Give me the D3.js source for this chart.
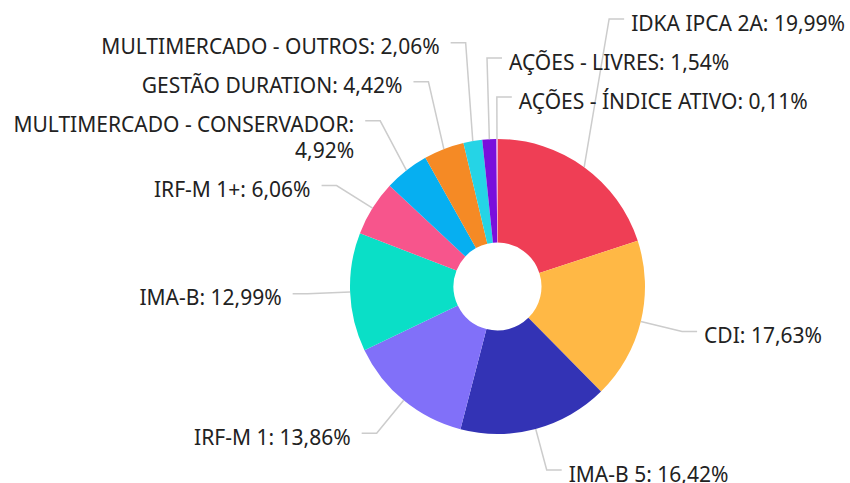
<!DOCTYPE html>
<html>
<head>
<meta charset="utf-8">
<script src="https://cdn.jsdelivr.net/npm/d3@7"></script>
<style>
  html, body { margin: 0; padding: 0; background: #fff; }
  svg { display: block; }
</style>
</head>
<body>
<div id="chart"></div>
<script>
// ---- data ----
const categories = [
  "IDKA IPCA 2A", "CDI", "IMA-B 5", "IRF-M 1", "IMA-B", "IRF-M 1+",
  "MULTIMERCADO - CONSERVADOR", "GESTÃO DURATION", "MULTIMERCADO - OUTROS",
  "AÇÕES - LIVRES", "AÇÕES - ÍNDICE ATIVO"
];
const values = [19.99, 17.63, 16.42, 13.86, 12.99, 6.06, 4.92, 4.42, 2.06, 1.54, 0.11];
const colors = [
  "#EF3E55", "#FFB845", "#3333B5", "#8170F9", "#0ADFC7", "#F7558C",
  "#06AFF1", "#F58A25", "#25D4E6", "#7A0FDC", "#F0B4E6"
];

// ---- layout ----
const W = 850, H = 483;
const cx = 497.5, cy = 286.5, R = 147.5, r0 = 44;
const labelRing = 190;      // radius where labels want to sit
const hook = 15;            // horizontal connector segment
const lineH = 25.7, baseGap = 39;
const topBound = 19, bottomBound = 470;
const fontSize = 21;

const svg = d3.select("#chart").append("svg").attr("width", W).attr("height", H);
const g = svg.append("g");

const pie = d3.pie().sort(null).value(d => d)(values);
const arc = d3.arc().innerRadius(r0).outerRadius(R);

g.selectAll("path.slice").data(pie).join("path")
  .attr("class", "slice")
  .attr("transform", `translate(${cx},${cy})`)
  .attr("d", arc)
  .attr("fill", (d, i) => colors[i]);

const fmt = v => d3.format(".2f")(v).replace(".", ",") + "%";

const labels = pie.map((d, i) => {
  const a = (d.startAngle + d.endAngle) / 2;
  const s = Math.sin(a), c = Math.cos(a);
  const side = s > -0.1 ? "right" : "left";
  return {
    i, a, side,
    text: `${categories[i]}: ${fmt(values[i])}`,
    nx: cx + labelRing * s,
    ny: cy - labelRing * c,
    ex: cx + R * s,
    ey: cy - R * c
  };
});

// measure & wrap
const measure = svg.append("text").attr("font-family", "'Noto Sans', sans-serif").attr("font-size", fontSize);
function width(t) { measure.text(t); return measure.node().getComputedTextLength(); }
labels.forEach(l => {
  l.endX = l.side === "right" ? l.nx + hook : l.nx - hook;
  l.tx = l.side === "right" ? l.endX + 7 : l.endX - 11;
  const avail = l.side === "right" ? W - 1 - l.tx : l.tx - 2;
  const words = l.text.split(" ");
  const lines = [];
  let cur = "";
  words.forEach(w => {
    const t = cur ? cur + " " + w : w;
    if (cur && width(t) > avail) { lines.push(cur); cur = w; } else cur = t;
  });
  lines.push(cur);
  l.lines = lines;
});
measure.remove();

function distribute(list) {
  const n = list.length;
  list.forEach(l => l.y = l.ny);
  // push upward from the bottom
  for (let k = n - 1; k >= 0; k--) {
    let lim = bottomBound;
    if (k < n - 1) lim = list[k + 1].y - (baseGap + lineH * (list[k].lines.length - 1));
    list[k].y = Math.min(list[k].y, lim);
  }
  // push downward from the top
  for (let k = 0; k < n; k++) {
    let lim = topBound;
    if (k > 0) lim = list[k - 1].y + baseGap + lineH * (list[k - 1].lines.length - 1);
    list[k].y = Math.max(list[k].y, lim);
  }
}
const left = labels.filter(l => l.side === "left").sort((a, b) => b.i - a.i);
const right = labels.filter(l => l.side === "right")
  .sort((a, b) => ((a.ny < cy ? 0 : 1) - (b.ny < cy ? 0 : 1)) || (a.i - b.i));
distribute(left);
distribute(right);

// connectors
g.selectAll("path.conn").data(labels).join("path")
  .attr("class", "conn")
  .attr("fill", "none")
  .attr("stroke", "#cccccc")
  .attr("stroke-width", 1.5)
  .attr("d", l => d3.line()([[l.endX, l.y], [l.nx, l.y], [l.ex, l.ey]]));

// texts
const txt = g.selectAll("text.lbl").data(labels).join("text")
  .attr("class", "lbl")
  .attr("font-family", "'Noto Sans', sans-serif")
  .attr("font-size", fontSize)
  .attr("fill", "#222222")
  .attr("text-anchor", l => l.side === "right" ? "start" : "end");
txt.each(function (l) {
  const t = d3.select(this);
  l.lines.forEach((line, k) => {
    t.append("tspan").attr("x", l.tx).attr("y", l.y + 11.5 + k * lineH).text(line);
  });
});
</script>
</body>
</html>
